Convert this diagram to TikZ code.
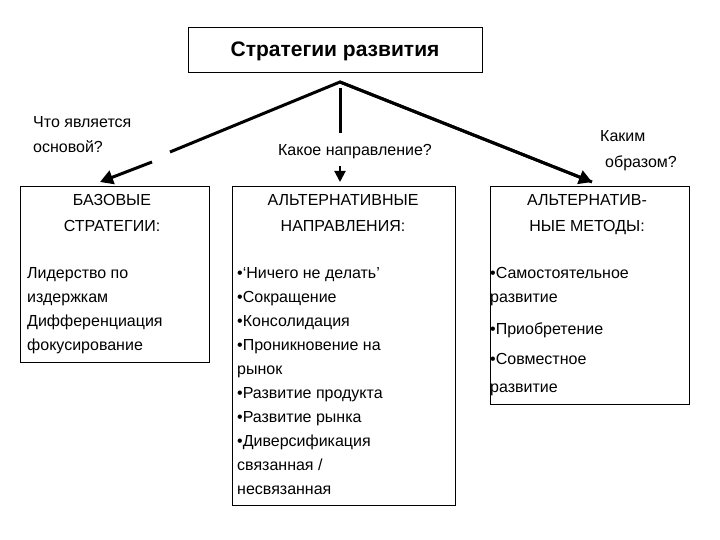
\documentclass[tikz,border=0pt]{standalone}
\usepackage{fontspec}
\setmainfont{Liberation Sans}
\usetikzlibrary{arrows.meta}
\begin{document}
\begin{tikzpicture}[x=1pt,y=-1pt,
  box/.style={draw,line width=0.8pt,anchor=north west,inner sep=0pt},
  txt/.style={font=\fontsize{16}{16}\selectfont,anchor=base west,inner sep=0pt},
  ctxt/.style={font=\fontsize{16}{16}\selectfont,anchor=base,inner sep=0pt},
  arr/.style={line width=3pt,-{Triangle[length=13pt,width=14pt]}},
  ln/.style={line width=3pt}]
\useasboundingbox (0,0) rectangle (720,540);
\node[box,minimum width=294pt,minimum height=45pt] (title) at (188,27) {};
\node[font=\fontsize{21}{21}\selectfont\bfseries,anchor=base] (tt) at (335,57) {Стратегии развития};
\node[box,minimum width=189pt,minimum height=176pt] (b1) at (20,186) {};
\node[box,minimum width=223pt,minimum height=319pt] (b2) at (232,186) {};
\node[box,minimum width=199pt,minimum height=218pt] (b3) at (490,186) {};
\coordinate (apex) at (340,82);
\coordinate (l1) at (170,152);
\coordinate (l2) at (152,162);
\coordinate (l3) at (100,182);
\coordinate (m1) at (340,88);
\coordinate (m2) at (340,133);
\coordinate (m3) at (340,166);
\coordinate (m4) at (340,182);
\coordinate (r1) at (592,182);
\draw[ln,line join=miter] (l1) -- (apex) -- (r1);
\draw[arr] (apex) -- (r1);
\draw[arr] (l2) -- (l3);
\draw[ln] (m1) -- (m2);
\draw[-{Triangle[length=11pt,width=11pt]},line width=2pt] (m3) -- (m4);
\node[txt] (q1a) at (33,128) {Что является};
\node[txt] (q1b) at (33,153) {основой?};
\node[ctxt] (q2) at (355,156) {Какое направление?};
\node[txt] (q3a) at (600,142) {Каким};
\node[txt] (q3b) at (605,168) {образом?};
\node[ctxt] (h1a) at (112,206) {БАЗОВЫЕ};
\node[ctxt] (h1b) at (112,231) {СТРАТЕГИИ:};
\node[ctxt] (h2a) at (343,206) {АЛЬТЕРНАТИВНЫЕ};
\node[ctxt] (h2b) at (343,231) {НАПРАВЛЕНИЯ:};
\node[ctxt] (h3a) at (587,206) {АЛЬТЕРНАТИВ-};
\node[ctxt] (h3b) at (587,231) {НЫЕ МЕТОДЫ:};
\foreach \t [count=\i] in {Лидерство по,издержкам,Дифференциация,фокусирование}
  \node[txt] (a\i) at (27,{254+24*\i}) {\t};
\foreach \t [count=\i] in {•‘Ничего не делать’,•Сокращение,•Консолидация,•Проникновение на,рынок,•Развитие продукта,•Развитие рынка,•Диверсификация,связанная /,несвязанная}
  \node[txt] (c\i) at (237,{254+24*\i}) {\t};
\node[txt] (d1) at (490,278) {•Самостоятельное};
\node[txt] (d2) at (490,302) {развитие};
\node[txt] (d3) at (490,334) {•Приобретение};
\node[txt] (d4) at (490,364) {•Совместное};
\node[txt] (d5) at (490,392) {развитие};
\end{tikzpicture}
\end{document}
